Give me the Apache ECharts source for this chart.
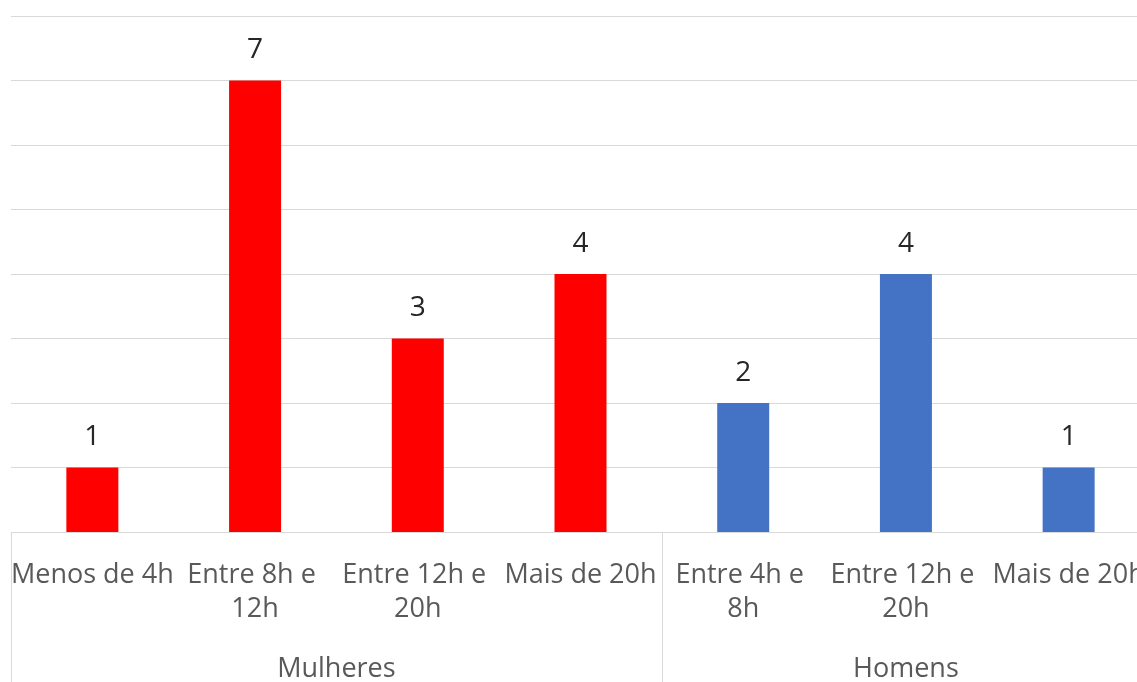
<!DOCTYPE html>
<html>
<head>
<meta charset="utf-8">
<script src="https://cdn.jsdelivr.net/npm/echarts@6/dist/echarts.min.js"></script>
<style>
  html, body { margin: 0; padding: 0; background: #fff; }
  #chart { width: 1137px; height: 682px; }
</style>
</head>
<body>
<div id="chart"></div>
<script>
// Hours per category, split into two groups
const categories = ['Menos de 4h', 'Entre 8h e 12h', 'Entre 12h e 20h', 'Mais de 20h',
                    'Entre 4h e 8h', 'Entre 12h e 20h', 'Mais de 20h'];
const values = [1, 7, 3, 4, 2, 4, 1];
const groupNames = ['Mulheres', 'Homens'];
const groupSizes = [4, 3];
const groupColors = ['#FF0000', '#4472C4'];
const yTicks = [0, 1, 2, 3, 4, 5, 6, 7, 8];

// group boundaries and centres on a 0..N scale
const boundaries = [0];
groupSizes.forEach(s => boundaries.push(boundaries[boundaries.length - 1] + s));
const centres = groupSizes.map((s, i) => boundaries[i] + s / 2);

const barData = values.map((v, i) => {
  let g = 0;
  while (i >= boundaries[g + 1]) g++;
  return { value: v, itemStyle: { color: groupColors[g] } };
});

const font = 'Open Sans';
const chart = echarts.init(document.getElementById('chart'), null, { renderer: 'canvas' });
chart.setOption({
  animation: false,
  backgroundColor: '#ffffff',
  grid: { left: 11, top: 16, width: 1139, height: 516, outerBoundsMode: 'none', containLabel: false },
  xAxis: [
    {
      type: 'category',
      data: categories,
      position: 'bottom',
      axisLine: { show: true, lineStyle: { color: '#d9d9d9', width: 1 } },
      axisTick: { show: false },
      axisLabel: {
        interval: 0,
        color: '#595959',
        fontFamily: font,
        fontSize: 27,
        lineHeight: 34,
        width: 166,
        overflow: 'break',
        margin: 26
      }
    },
    {
      type: 'value',
      min: 0,
      max: categories.length,
      position: 'bottom',
      axisLine: { show: false },
      splitLine: { show: false },
      axisTick: {
        show: true,
        customValues: boundaries,
        length: 150,
        lineStyle: { color: '#d9d9d9', width: 1 }
      },
      axisLabel: {
        customValues: centres,
        formatter: v => groupNames[centres.indexOf(v)] || '',
        color: '#595959',
        fontFamily: font,
        fontSize: 27,
        margin: 124,
        showMinLabel: true,
        showMaxLabel: true
      }
    }
  ],
  yAxis: {
    type: 'value',
    min: yTicks[0],
    max: yTicks[yTicks.length - 1],
    interval: 1,
    axisLine: { show: false },
    axisTick: { show: false },
    axisLabel: { show: false },
    splitLine: { show: true, lineStyle: { color: '#d9d9d9', width: 1 } }
  },
  series: [{
    type: 'bar',
    xAxisIndex: 0,
    data: barData,
    barWidth: 52,
    label: {
      show: true,
      position: 'top',
      distance: 16,
      color: '#262626',
      fontFamily: font,
      fontSize: 28
    }
  }]
});
</script>
</body>
</html>
